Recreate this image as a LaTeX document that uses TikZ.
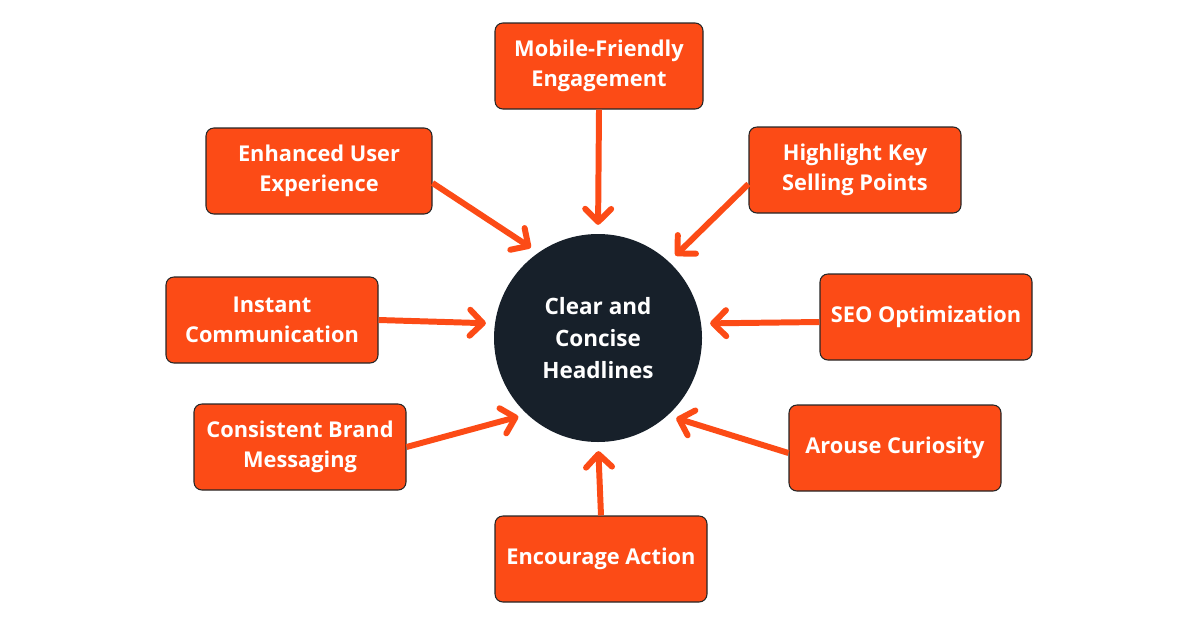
\documentclass[tikz,border=0pt]{standalone}
\usepackage{fontspec}
\setmainfont{Open Sans}
\usetikzlibrary{arrows.meta,calc}
\definecolor{flame}{RGB}{252,75,22}
\definecolor{ink}{RGB}{23,32,42}
\begin{document}
\begin{tikzpicture}[
    card/.style={draw=black!85, line width=0.6pt, fill=flame, rounded corners=4.5pt,
                 minimum width=4.24cm, minimum height=1.72cm, text=white,
                 font=\fontsize{12.4}{17.2}\selectfont\bfseries, align=center, inner sep=2pt},
    hub/.style={circle, fill=ink, minimum size=4.16cm, text=white,
                font=\fontsize{12.8}{18}\selectfont\bfseries, align=center},
    feed/.style={draw=flame, line width=3.4pt,
                 -{Straight Barb[length=2.6mm,width=5.2mm,round]}, shorten >=5pt},
]
\useasboundingbox (0,0) rectangle (24,12.6);
% centre
\node[hub] (core) at (11.96, 5.84) {Clear and\\Concise\\Headlines};
% surrounding cards
\node[card, minimum width=4.16cm] (mobile) at (11.98, 11.28) {Mobile-Friendly\\Engagement};
\node[card, minimum width=4.52cm] (userx) at (6.38, 9.18) {Enhanced User\\Experience};
\node[card] (selling) at (17.10, 9.20) {Highlight Key\\Selling Points};
\node[card] (instant) at (5.44, 6.20) {Instant\\Communication};
\node[card] (seo) at (18.52, 6.26) {SEO Optimization};
\node[card] (brand) at (6.00, 3.66) {Consistent Brand\\Messaging};
\node[card] (curious) at (17.90, 3.64) {Arouse Curiosity};
\node[card] (action) at (12.02, 1.42) {Encourage Action};
% arrows into the centre
\draw[feed] (mobile.south) -- (core.90);
\draw[feed] ([yshift=-0.24cm]userx.east) -- (core.125);
\draw[feed] ([yshift=-0.28cm]selling.west) -- (core.47);
\draw[feed] (instant.east) -- (core.172);
\draw[feed] ([yshift=-0.1cm]seo.west) -- (core.8);
\draw[feed] (brand.east) -- (core.227);
\draw[feed] ([yshift=-0.1cm]curious.west) -- (core.312);
\draw[feed] (action.north) -- (core.270);
\end{tikzpicture}
\end{document}
